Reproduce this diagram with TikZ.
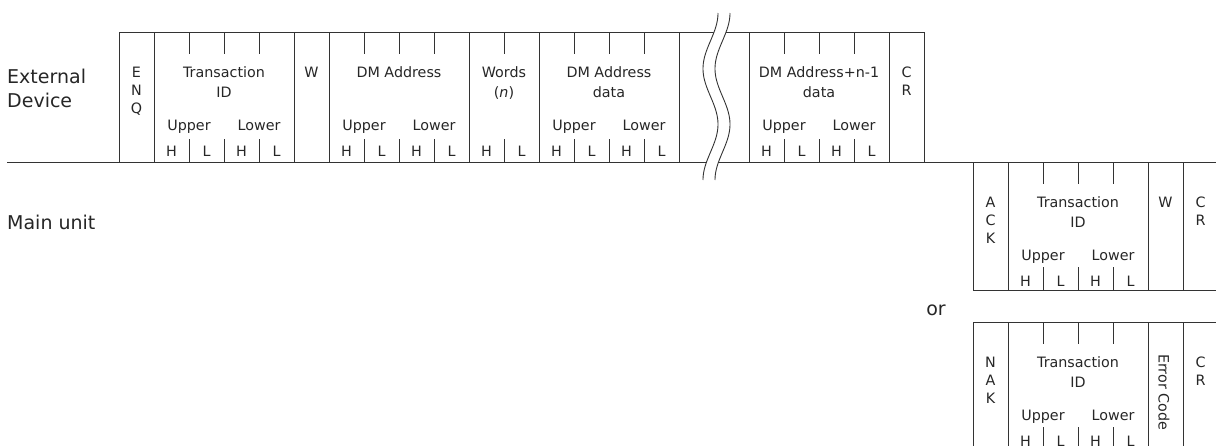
\documentclass[tikz,border=0pt]{standalone}
\usepackage{fontspec}
\setmainfont{DejaVu Sans}
\tikzset{
  bx/.style={anchor=base,inner sep=0pt,font=\fontsize{14.3}{16}\selectfont,text=black!85},
  lbl/.style={anchor=base west,inner sep=0pt,font=\fontsize{19}{22}\selectfont,text=black!85},
  frame/.style={line width=1pt,draw=black!80},
}
% #1 name, #2 x0, #3 top, #4 height, #5 line1, #6 line2
\newcommand\fourfield[6]{%
  \foreach \k in {1,2,3} {\draw[frame] (#2+35*\k,#3) -- ++(0,22); \draw[frame] (#2+35*\k,#3+#4-23) -- ++(0,23);}
  \node[bx] (#1-a) at (#2+70,#3+45.5) {#5};
  \node[bx] (#1-b) at (#2+70,#3+65.5) {#6};
  \node[bx] (#1-u) at (#2+35,#3+98) {Upper};
  \node[bx] (#1-l) at (#2+105,#3+98) {Lower};
  \foreach \k/\c in {0/H,1/L,2/H,3/L} \node[bx] (#1-\k) at (#2+17.5+35*\k,#3+124) {\c};
}
% vertical letters: #1 name, #2 x centre, #3 top, #4 list
\newcommand\vletters[4]{%
  \foreach \c [count=\n from 0] in {#4} \node[bx] (#1-\n) at (#2,#3+45+18*\n) {\c};
}
\begin{document}
\begin{tikzpicture}[x=1pt,y=-1pt]
\useasboundingbox (0,0) rectangle (1216,445);
\clip (0,0) rectangle (1216,445);

% labels
\node[lbl] (ext1) at (7,83) {External};
\node[lbl] (ext2) at (7,107) {Device};
\node[lbl] (main) at (7,229) {Main unit};
\node[lbl,anchor=base] (or) at (936,315) {or};

% external device frame
\draw[frame] (119,32) rectangle (924,162);
\foreach \x in {154,294,329,469,539,679,749,889} \draw[frame] (\x,32) -- (\x,162);
\draw[frame] (7,162) -- (1216,162);

\vletters{enq}{136.5}{32}{E,N,Q}
\fourfield{tid}{154}{32}{130}{Transaction}{ID}
\node[bx] (w1) at (311.5,77.5) {W};
\fourfield{dma}{329}{32}{130}{DM Address}{}
% words
\draw[frame] (504,32) -- ++(0,22);
\draw[frame] (504,139) -- ++(0,23);
\node[bx] (wd-a) at (504,77.5) {Words};
\node[bx] (wd-b) at (504,97.5) {(\textit{n})};
\node[bx] (wd-h) at (486.5,156) {H};
\node[bx] (wd-l) at (521.5,156) {L};
\fourfield{dmd}{539}{32}{130}{DM Address}{data}
\fourfield{dmn}{749}{32}{130}{DM Address+n-1}{data}
\vletters{cr1}{906.5}{32}{C,R}

% break mark
\fill[white] plot[variable=\t,domain=13:180,samples=80] ({710.5+7.5*cos(3.2345*(\t-13))},\t)
  -- plot[variable=\t,domain=180:13,samples=80] ({722.5+7.5*cos(3.2345*(\t-13))},\t) -- cycle;
\draw[frame,line width=0.9pt] plot[variable=\t,domain=13:180,samples=80] ({710.5+7.5*cos(3.2345*(\t-13))},\t);
\draw[frame,line width=0.9pt] plot[variable=\t,domain=13:180,samples=80] ({722.5+7.5*cos(3.2345*(\t-13))},\t);

% ACK response
\draw[frame] (973,162) rectangle (1218,290);
\foreach \x in {1008,1148,1183} \draw[frame] (\x,162) -- (\x,290);
\vletters{ack}{990.5}{162}{A,C,K}
\fourfield{atid}{1008}{162}{128}{Transaction}{ID}
\node[bx] (w2) at (1165.5,207.5) {W};
\vletters{cr2}{1200.5}{162}{C,R}

% NAK response
\draw[frame] (973,322) rectangle (1218,450);
\foreach \x in {1008,1148,1183} \draw[frame] (\x,322) -- (\x,450);
\vletters{nak}{990.5}{322}{N,A,K}
\fourfield{ntid}{1008}{322}{128}{Transaction}{ID}
\node[bx,anchor=base west,rotate=-90] (err) at (1158.5,354) {Error Code};
\vletters{cr3}{1200.5}{322}{C,R}
\end{tikzpicture}
\end{document}
